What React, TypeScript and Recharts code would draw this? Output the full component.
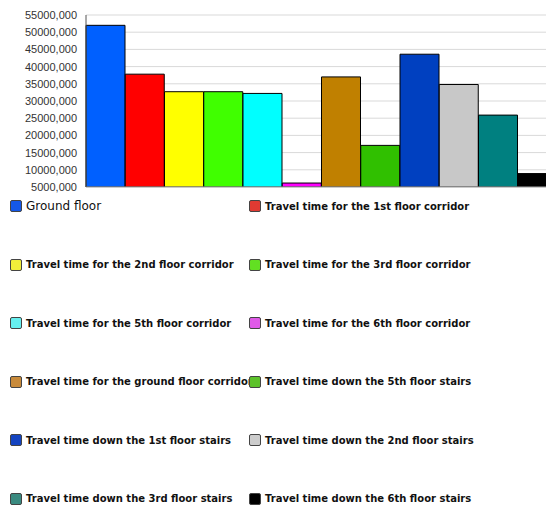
import React from 'react';
import { BarChart, Bar, Cell, XAxis, YAxis, CartesianGrid } from 'recharts';

// series names, in legend order
const seriesNames = [
  'Ground floor',
  'Travel time for the 1st floor corridor',
  'Travel time for the 2nd floor corridor',
  'Travel time for the 3rd floor corridor',
  'Travel time for the 5th floor corridor',
  'Travel time for the 6th floor corridor',
  'Travel time for the ground floor corridor',
  'Travel time down the 5th floor stairs',
  'Travel time down the 1st floor stairs',
  'Travel time down the 2nd floor stairs',
  'Travel time down the 3rd floor stairs',
  'Travel time down the 6th floor stairs',
];

const seriesValues = [
  52000000, 37800000, 32700000, 32700000, 32200000, 6150000,
  37000000, 17100000, 43600000, 34800000, 25900000, 8900000,
];

const barColors = [
  '#0060ff', '#ff0000', '#ffff00', '#40ff00', '#00ffff', '#ff00ff',
  '#c08000', '#30c000', '#0040c0', '#c8c8c8', '#008080', '#000000',
];

const legendColors = [
  '#1458e8', '#e03a32', '#f2ee3a', '#62e022', '#66f0f0', '#e05ae8',
  '#c88a3a', '#5cc22a', '#1444c0', '#cccccc', '#3a8a80', '#000000',
];

const yTicks = [
  5000000, 10000000, 15000000, 20000000, 25000000, 30000000,
  35000000, 40000000, 45000000, 50000000, 55000000,
];

const data = seriesNames.map((name, i) => ({ name, value: seriesValues[i] }));

const fmtTick = (v: number) => `${v / 1000},000`;

const Legend12 = () => (
  <div style={{ position: 'absolute', left: 0, top: 0, width: 554, height: 509 }}>
    {seriesNames.map((name, i) => {
      const col = i % 2;
      const row = Math.floor(i / 2);
      const left = col === 0 ? 10 : 249;
      const top = 206 + row * 58.5;
      return (
        <div
          key={name}
          style={{
            position: 'absolute',
            left,
            top: top - 7,
            height: 14,
            display: 'flex',
            alignItems: 'center',
            whiteSpace: 'nowrap',
            fontFamily: 'DejaVu Sans, Verdana, sans-serif',
            fontSize: i === 0 ? 12 : 10,
            fontWeight: i === 0 ? 'normal' : 'bold',
            color: '#111',
          }}
        >
          <span
            style={{
              display: 'inline-block',
              width: 10,
              height: 10,
              background: legendColors[i],
              border: '1px solid #444',
              borderRadius: 2,
              marginRight: 4,
              flex: 'none',
            }}
          />
          {name}
        </div>
      );
    })}
  </div>
);

export default function App() {
  return (
    <div style={{ position: 'relative', margin: '-8px 0 0 -8px', width: 554, height: 509, overflow: 'hidden', background: '#fff' }}>
      <BarChart
        width={557}
        height={196}
        data={data}
        margin={{ top: 15, right: 0, left: 0, bottom: 8 }}
        barCategoryGap={0}
        barGap={0}
      >
        <CartesianGrid vertical={false} stroke="#d9d9d9" />
        <XAxis dataKey="name" height={1} tick={false} tickLine={false} axisLine={{ stroke: '#aaaaaa' }} />
        <YAxis
          width={86}
          domain={[5000000, 55000000]}
          ticks={yTicks}
          allowDataOverflow
          interval={0}
          tickFormatter={fmtTick}
          tickLine={false}
          tickMargin={3}
          axisLine={{ stroke: '#555555' }}
          tick={{ fontFamily: 'Liberation Sans, Arial, sans-serif', fontSize: 11, fill: '#333' }}
        />
        <Bar dataKey="value" stroke="#000" strokeWidth={1} isAnimationActive={false}>
          {data.map((d, i) => (
            <Cell key={d.name} fill={barColors[i]} />
          ))}
        </Bar>
      </BarChart>
      <Legend12 />
    </div>
  );
}
